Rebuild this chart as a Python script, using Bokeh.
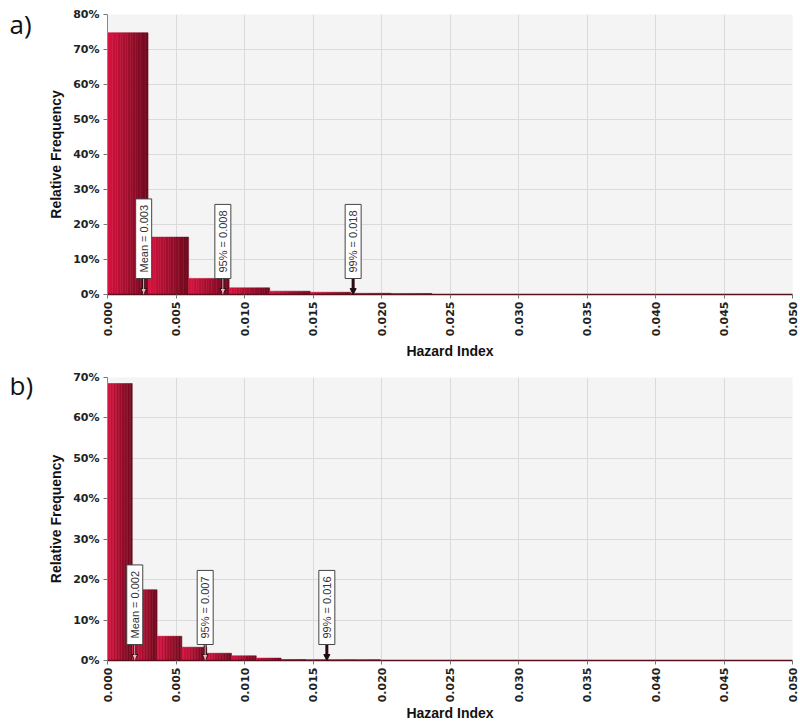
from math import pi
from bokeh.plotting import figure
from bokeh.layouts import column, row
from bokeh.models import FixedTicker, PrintfTickFormatter, Range1d, Label, Arrow, NormalHead, ColumnDataSource
from bokeh.core.properties import value
from bokeh.embed import file_html
from bokeh.resources import INLINE

# ---------------- data ----------------
x_ticks = [0.000, 0.005, 0.010, 0.015, 0.020, 0.025, 0.030, 0.035, 0.040, 0.045, 0.050]

# panel a)
a_bin_width = 0.00296
a_freq = [74.8, 16.4, 4.6, 1.9, 0.95, 0.65, 0.35, 0.3]
a_marker_x = [0.00264, 0.00842, 0.01793]
a_marker_text = ["Mean = 0.003", "95% = 0.008", "99% = 0.018"]
a_y_ticks = [0, 10, 20, 30, 40, 50, 60, 70, 80]

# panel b)
b_bin_width = 0.00181
b_freq = [68.5, 17.5, 6.0, 3.3, 1.8, 1.15, 0.6, 0.25, 0.2, 0.2, 0.2]
b_marker_x = [0.00199, 0.00713, 0.01601]
b_marker_text = ["Mean = 0.002", "95% = 0.007", "99% = 0.016"]
b_y_ticks = [0, 10, 20, 30, 40, 50, 60, 70]

panel_letters = ["a)", "b)"]

# styles
ARROW_INNER = ["#f2b3c0", "#f2b3c0", None]   # hollow-looking arrows over bars, solid for last
C_LEFT = (214, 18, 62)
C_RIGHT = (112, 10, 30)
N_STRIPS = 16
LETTER_W = 40


def hexcol(t):
    c = tuple(int(round(C_LEFT[k] + (C_RIGHT[k] - C_LEFT[k]) * t)) for k in range(3))
    return "#%02x%02x%02x" % c


def make_letter(letter, height, y_pos):
    f = figure(width=LETTER_W, height=height, output_backend="svg", toolbar_location=None,
               x_range=Range1d(0, LETTER_W), y_range=Range1d(height, 0),
               min_border=0, x_axis_type=None, y_axis_type=None)
    f.outline_line_color = None
    f.background_fill_color = "white"
    f.border_fill_color = "white"
    f.xgrid.visible = False
    f.ygrid.visible = False
    f.text(x=[9], y=[y_pos], text=[letter], text_align="left", text_baseline="middle",
           text_font=value("Open Sans"), text_font_size="26px", text_color="#111111")
    return f


def make_panel(freq, bw, ymax, yticks, mx, mtext, height, b_top, b_bot, frame_h, title_standoff):
    p = figure(width=800 - LETTER_W, height=height, output_backend="svg", toolbar_location=None,
               x_range=Range1d(0, 0.05), y_range=Range1d(0, ymax),
               min_border_left=107 - LETTER_W, min_border_right=8, min_border_top=b_top,
               min_border_bottom=b_bot)
    p.background_fill_color = "#f4f4f4"
    p.border_fill_color = "white"
    p.outline_line_color = None

    # gradient bars as strips
    left, right, top, colors = [], [], [], []
    for i, f in enumerate(freq):
        l0 = i * bw
        for s in range(N_STRIPS):
            left.append(l0 + bw * s / N_STRIPS)
            right.append(l0 + bw * (s + 1) / N_STRIPS)
            top.append(f)
            colors.append(hexcol(s / (N_STRIPS - 1)))
    src = ColumnDataSource(dict(left=left, right=right, top=top, bottom=[0] * len(top), color=colors))
    p.quad(left="left", right="right", top="top", bottom="bottom", fill_color="color",
           line_color="color", line_width=0.5, source=src)

    # axes
    p.xaxis.ticker = FixedTicker(ticks=x_ticks)
    p.xaxis.formatter = PrintfTickFormatter(format="%.3f")
    p.xaxis.major_label_orientation = pi / 2
    p.yaxis.ticker = FixedTicker(ticks=yticks)
    p.yaxis.formatter = PrintfTickFormatter(format="%d%%")
    for ax in (p.xaxis[0], p.yaxis[0]):
        ax.major_label_text_font = "DejaVu Sans"
        ax.major_label_text_font_style = "bold"
        ax.major_label_text_font_size = "11px"
        ax.major_label_text_color = "#222222"
        ax.axis_label_text_font = "Liberation Sans"
        ax.axis_label_text_font_style = "bold"
        ax.axis_label_text_font_size = "14px"
        ax.axis_label_text_color = "#111111"
        ax.minor_tick_line_color = None
        ax.major_tick_out = 4
        ax.major_tick_in = 0
        ax.major_tick_line_color = "#777777"
    p.xaxis.axis_label = "Hazard Index"
    p.yaxis.axis_label = "Relative Frequency"
    p.yaxis.axis_line_color = "#888888"
    p.xaxis.axis_line_color = "#5a0f1c"
    p.xaxis.axis_line_width = 1.5
    p.xaxis.major_label_standoff = 3
    p.xaxis.axis_label_standoff = title_standoff
    p.yaxis.major_label_standoff = 4
    p.yaxis.axis_label_standoff = 6

    p.xgrid.grid_line_color = "#dadada"
    p.ygrid.grid_line_color = "#dadada"

    # markers
    gap_px = 16
    y_start = ymax * (gap_px + 6) / frame_h
    for x, t, inner in zip(mx, mtext, ARROW_INNER):
        head_fill = inner if inner else "#111111"
        p.add_layout(Arrow(x_start=x, x_end=x, y_start=y_start, y_end=0,
                           line_color="#2a0a10", line_width=3,
                           end=NormalHead(size=6, fill_color=head_fill, line_color="#2a0a10",
                                          line_width=1)))
        if inner:
            p.add_layout(Arrow(x_start=x, x_end=x, y_start=y_start, y_end=0,
                               line_color=inner, line_width=1, end=None))
        p.add_layout(Label(x=x, y=0, y_offset=gap_px, text=t, angle=pi / 2,
                           text_align="left", text_baseline="middle",
                           text_font="Liberation Sans", text_font_size="11px",
                           text_color="#333333", background_fill_color="white",
                           border_line_color="#444444", border_line_width=1,
                           padding=(6, 2)))
    return p


pa = make_panel(a_freq, a_bin_width, 80, a_y_ticks, a_marker_x, a_marker_text,
                362, 14, 67, 281, 4)
pb = make_panel(b_freq, b_bin_width, 70, b_y_ticks, b_marker_x, b_marker_text,
                362, 15, 64, 283, 0)
la = make_letter(panel_letters[0], 362, 12)
lb = make_letter(panel_letters[1], 362, 10)

layout = column(row(la, pa, spacing=0), row(lb, pb, spacing=0), spacing=0)
open("out.html", "w").write(file_html(layout, INLINE))
